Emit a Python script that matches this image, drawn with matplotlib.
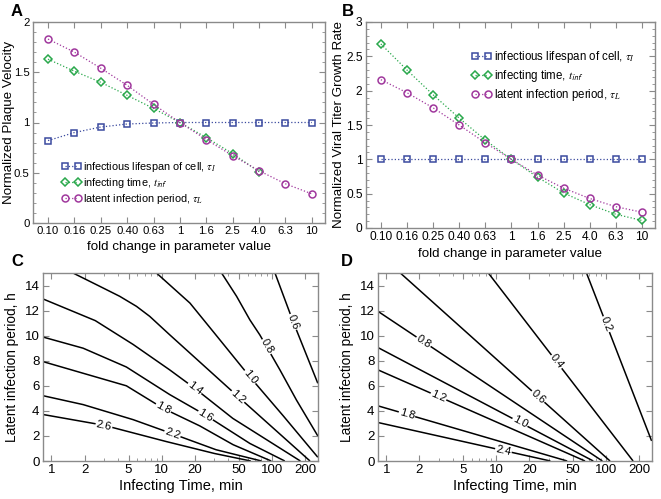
import numpy as np
import matplotlib
matplotlib.use("Agg")
import matplotlib.pyplot as plt
from matplotlib.ticker import FixedLocator, NullFormatter, MultipleLocator

plt.rcParams['font.family'] = ['Liberation Sans', 'DejaVu Sans']
plt.rcParams['mathtext.fontset'] = 'stix'

# ---- panels A / B: normalized sensitivities ----
fold_labels = ["0.10", "0.16", "0.25", "0.40", "0.63", "1", "1.6", "2.5", "4.0", "6.3", "10"]

a_tau_i = [0.82, 0.90, 0.955, 0.985, 0.995, 1.0, 1.0, 1.0, 1.0, 1.0, 1.0]
a_t_inf = [1.63, 1.51, 1.40, 1.27, 1.14, 1.0, 0.85, 0.69, 0.51, np.nan, np.nan]
a_tau_l = [1.83, 1.70, 1.54, 1.37, 1.18, 1.0, 0.83, 0.67, 0.52, 0.39, 0.29]

b_tau_i = [1.0, 1.0, 1.0, 1.0, 1.0, 1.0, 1.0, 1.0, 1.0, 1.0, 1.0]
b_t_inf = [2.68, 2.30, 1.94, 1.60, 1.28, 1.0, 0.74, 0.51, 0.34, 0.20, 0.11]
b_tau_l = [2.16, 1.97, 1.75, 1.50, 1.24, 1.0, 0.77, 0.58, 0.43, 0.31, 0.23]

series_labels = ["infectious lifespan of cell, $\\tau_I$",
                 "infecting time, $t_{\\mathsf{inf}}$",
                 "latent infection period, $\\tau_L$"]

# ---- panels C / D: contour lines (infecting time in min, latent period in h) ----
c_levels = ["2.6", "2.2", "1.8", "1.6", "1.4", "1.2", "1.0", "0.8", "0.6"]
c_t = [
    [0.84, 3.0, 11.0, 30.0, 64.0],
    [0.84, 1.94, 5.5, 12.7, 31.0, 80.0],
    [0.84, 1.94, 4.78, 10.3, 22.1, 44.3, 98.0],
    [0.84, 1.94, 4.78, 11.8, 24.5, 62.8, 130.0],
    [0.84, 2.5, 5.5, 11.8, 19.9, 44.0, 180.0],
    [1.57, 2.74, 4.16, 5.9, 7.78, 11.8, 49.2, 220.0],
    [8.95, 11.8, 18.0, 30.0, 63.0, 126.0, 259.0],
    [34.8, 47.6, 62.8, 77.3, 88.9, 117.5, 166.0, 259.0],
    [106.0, 155.0, 259.0],
]
c_L = [
    [3.71, 2.85, 1.55, 0.6, 0.0],
    [5.21, 4.5, 3.3, 2.15, 0.9, 0.0],
    [7.93, 7.0, 6.0, 4.2, 2.8, 1.3, 0.0],
    [9.89, 9.0, 7.5, 5.3, 3.7, 1.4, 0.0],
    [12.93, 11.2, 9.3, 7.27, 5.8, 3.4, 0.0],
    [15.0, 13.94, 13.14, 12.34, 11.54, 10.07, 5.13, 0.0],
    [15.0, 14.05, 12.6, 10.2, 6.7, 3.6, 0.3],
    [15.0, 13.14, 11.26, 10.06, 9.13, 7.27, 4.86, 2.0],
    [15.0, 11.1, 6.2],
]
c_label_t = [3.0, 12.5, 10.3, 25.0, 19.9, 49.0, 63.0, 89.0, 155.0]

d_levels = ["2.4", "1.8", "1.2", "1.0", "0.8", "0.6", "0.4", "0.2"]
d_t = [
    [0.84, 31.0],
    [0.84, 44.0],
    [0.84, 64.0],
    [0.84, 76.0],
    [0.84, 92.0],
    [1.34, 108.0],
    [8.45, 175.0],
    [66.0, 258.0],
]
d_L = [
    [3.07, 0.0],
    [4.40, 0.0],
    [7.27, 0.0],
    [9.05, 0.0],
    [11.94, 0.0],
    [15.0, 0.0],
    [15.0, 0.0],
    [15.0, 1.6],
]
d_label_t = [11.6, 1.54, 2.98, 16.4, 2.18, 24.0, 35.3, 100.0]

BLUE = "#3b4a9f"
GREEN = "#2aa84c"
PURPLE = "#a0389d"
GRAY = "#8a8a8a"

W, H = 661, 499
fig = plt.figure(figsize=(W / 100, H / 100), dpi=100)


def px_axes(left, top, right, bottom):
    return fig.add_axes([left / W, 1 - bottom / H, (right - left) / W, (bottom - top) / H])


def frame(ax):
    for sp in ax.spines.values():
        sp.set_color(GRAY)
        sp.set_linewidth(1.0)
    ax.tick_params(which="both", direction="in", top=True, right=True, color=GRAY, pad=2.5)
    ax.tick_params(which="major", length=4)
    ax.tick_params(which="minor", length=2)


def sensitivity_panel(ax, ys, ymax, yticks, tick_fs, leg_fs, leg_anchor, leg_space):
    x = np.arange(len(fold_labels))
    styles = [(BLUE, "s", 4.3), (GREEN, "D", 3.6), (PURPLE, "o", 5.0)]
    for y, lab, (col, mk, ms) in zip(ys, series_labels, styles):
        ax.plot(x, y, ls=":", lw=0.9, color=col, marker=mk, ms=ms,
                mfc="none", mec=col, mew=1.1, label=lab)
    ax.set_xlim(-0.57, 10.5)
    ax.set_ylim(0, ymax)
    ax.set_xticks(x)
    ax.set_xticklabels(fold_labels)
    ax.set_yticks(yticks)
    ax.set_yticklabels([f"{v:g}" for v in yticks])
    ax.yaxis.set_minor_locator(MultipleLocator(0.1))
    frame(ax)
    ax.tick_params(labelsize=tick_fs)
    ax.set_xlabel("fold change in parameter value", fontsize=9.6, labelpad=3)
    ax.legend(loc="upper left", bbox_to_anchor=leg_anchor, frameon=False, numpoints=2,
              fontsize=leg_fs, handlelength=1.75, handletextpad=0.2,
              labelspacing=leg_space, borderpad=0, borderaxespad=0)


def contour_panel(ax, levels, ts, Ls, label_ts):
    ax.set_xscale("log")
    ax.set_xlim(0.84, 260)
    ax.set_ylim(0, 15)
    for t, L in zip(ts, Ls):
        ax.plot(t, L, color="black", lw=1.1, solid_capstyle="butt", solid_joinstyle="round")
    ax.set_xticks([1, 2, 5, 10, 20, 50, 100, 200])
    ax.set_xticklabels(["1", "2", "5", "10", "20", "50", "100", "200"])
    minor = [m * d for d in (1, 10, 100) for m in (3, 4, 6, 7, 8, 9)]
    ax.xaxis.set_minor_locator(FixedLocator(minor))
    ax.xaxis.set_minor_formatter(NullFormatter())
    ax.set_yticks(range(0, 15, 2))
    frame(ax)
    ax.tick_params(labelsize=9.5)
    ax.set_xlabel("Infecting Time, min", fontsize=10.5, labelpad=2)
    ax.set_ylabel("Latent infection period, h", fontsize=9.8, labelpad=4)
    # inline labels
    for lev, t, L, lt in zip(levels, ts, Ls, label_ts):
        lx = np.log10(t)
        ly = np.interp(np.log10(lt), lx, L)
        p0 = ax.transData.transform((lt / 1.08, np.interp(np.log10(lt / 1.08), lx, L)))
        p1 = ax.transData.transform((lt * 1.08, np.interp(np.log10(lt * 1.08), lx, L)))
        ang = np.degrees(np.arctan2(p1[1] - p0[1], p1[0] - p0[0]))
        ax.text(lt, ly, lev, fontsize=8, rotation=ang, rotation_mode="anchor",
                ha="center", va="center",
                bbox=dict(fc="white", ec="none", pad=0.6))


ax_a = px_axes(33, 22, 325, 223)
sensitivity_panel(ax_a, [a_tau_i, a_t_inf, a_tau_l], 2, [0, 0.5, 1, 1.5, 2],
                  8.2, 7.8, (0.1, 0.315), 0.2)
ax_a.set_ylabel("Normalized Plaque Velocity", fontsize=9.6)
ax_a.yaxis.set_label_coords(-0.062, 0.5)

ax_b = px_axes(366, 22, 655, 228)
sensitivity_panel(ax_b, [b_tau_i, b_t_inf, b_tau_l], 3, [0, 0.5, 1, 1.5, 2, 2.5, 3],
                  8.6, 8.3, (0.365, 0.87), 0.25)
ax_b.set_ylabel("Normalized Viral Titer Growth Rate", fontsize=9.6)
ax_b.yaxis.set_label_coords(-0.073, 0.5)

ax_c = px_axes(43, 273, 318, 461)
contour_panel(ax_c, c_levels, c_t, c_L, c_label_t)

ax_d = px_axes(378, 273, 652, 461)
contour_panel(ax_d, d_levels, d_t, d_L, d_label_t)

for letter, xp, yp in [("A", 11, 4), ("B", 342, 4), ("C", 11, 254), ("D", 341, 254)]:
    fig.text(xp / W, 1 - yp / H, letter, fontsize=12, fontweight="bold", va="top", ha="left")

fig.savefig("out.png", dpi=100)
